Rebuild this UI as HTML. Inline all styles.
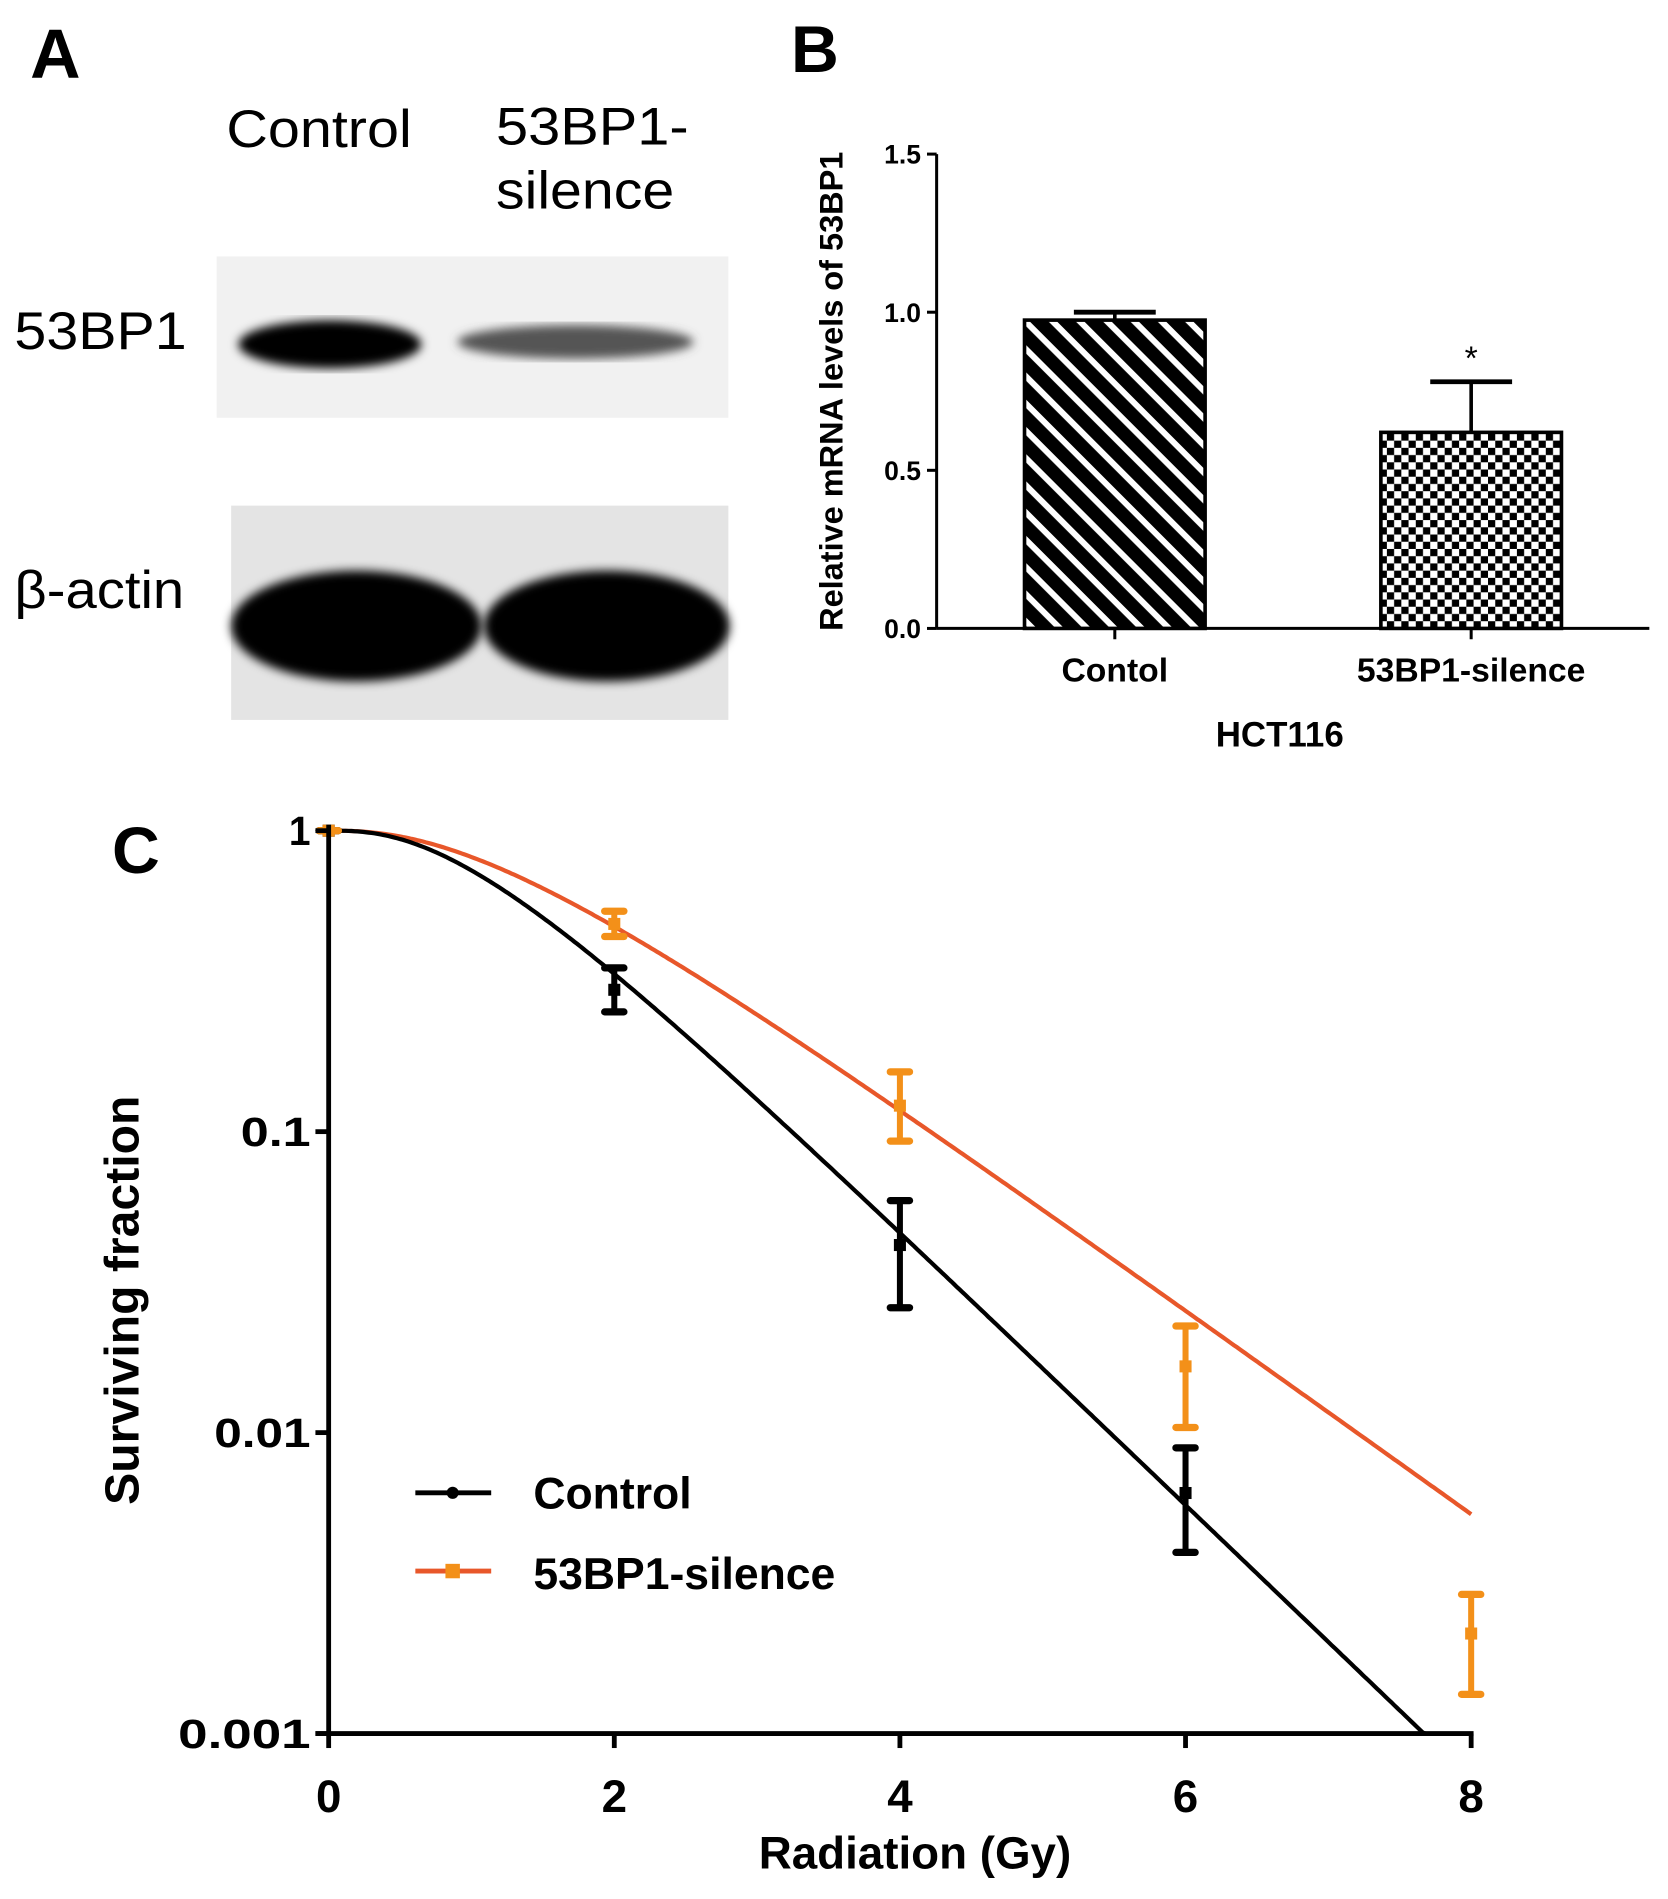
<!DOCTYPE html>
<html><head><meta charset="utf-8">
<style>
html,body{margin:0;padding:0;background:#fff;}
svg{display:block;}
text{font-family:"Liberation Sans",Arial,sans-serif;}
</style></head>
<body>
<svg id="fig" width="1668" height="1899" viewBox="0 0 1385.5 1577.4" preserveAspectRatio="none" xmlns="http://www.w3.org/2000/svg">
<defs>
<filter id="blur8"><feGaussianBlur stdDeviation="7"/></filter>
<filter id="blur4"><feGaussianBlur stdDeviation="4"/></filter>
<pattern id="hatch" patternUnits="userSpaceOnUse" width="16" height="16" patternTransform="rotate(45)">
<rect width="16" height="16" fill="#000"/><rect x="0" y="0" width="16" height="5" fill="#fff"/>
</pattern>
<pattern id="checker" patternUnits="userSpaceOnUse" width="12" height="12">
<rect width="12" height="12" fill="#fff"/><rect width="6" height="6" fill="#000"/><rect x="6" y="6" width="6" height="6" fill="#000"/>
</pattern>
</defs>

<!-- Panel A -->
<g>
<text x="25" y="65" font-size="58" font-weight="bold">A</text>
<text x="188" y="122" font-size="44" textLength="154" lengthAdjust="spacingAndGlyphs">Control</text>
<text x="412" y="120" font-size="44" textLength="160" lengthAdjust="spacingAndGlyphs">53BP1-</text>
<text x="412" y="173" font-size="44" textLength="148" lengthAdjust="spacingAndGlyphs">silence</text>
<text x="12" y="290" font-size="44" textLength="143" lengthAdjust="spacingAndGlyphs">53BP1</text>
<text x="12" y="505" font-size="44" textLength="141" lengthAdjust="spacingAndGlyphs">β-actin</text>
<g>
<rect x="180" y="213" width="425" height="134" fill="#f1f1f1"/>
<ellipse cx="274" cy="286" rx="76" ry="20" fill="#000" filter="url(#blur4)"/>
<ellipse cx="478" cy="284" rx="98" ry="14" fill="#555" filter="url(#blur4)"/>
</g>
<g>
<rect x="192" y="420" width="413" height="178" fill="#e4e4e4"/>
<ellipse cx="296" cy="520" rx="104" ry="46" fill="#000" filter="url(#blur4)"/>
<ellipse cx="504" cy="520" rx="102" ry="46" fill="#000" filter="url(#blur4)"/>
</g>
</g>

<!-- Panel B -->
<g id="panelB">
<text x="657" y="60" font-size="55" font-weight="bold">B</text>
<text transform="translate(700,325) rotate(-90)" text-anchor="middle" font-size="27" font-weight="bold">Relative mRNA levels of 53BP1</text>
<text x="1063" y="620" text-anchor="middle" font-size="29" font-weight="bold">HCT116</text>
</g>

<!-- Panel C -->
<g id="panelC">
<text x="93" y="725" font-size="55" font-weight="bold">C</text>
<text transform="translate(115,1080) rotate(-90)" text-anchor="middle" font-size="40" font-weight="bold">Surviving fraction</text>
<text x="760" y="1552" text-anchor="middle" font-size="38" font-weight="bold">Radiation (Gy)</text>
</g>
</svg>
<script>
// ---- Panel B data ----
const bCategories = ["Contol", "53BP1-silence"];
const bValues = [0.975, 0.62];
const bErrors = [0.025, 0.16];
const bTicks = [0, 0.5, 1.0, 1.5];
const bTickLabels = ["0.0", "0.5", "1.0", "1.5"];

// ---- Panel C data ----
const cDoses = [0, 2, 4, 6, 8];
const controlDoses = [0, 2, 4, 6];
const controlSF = [1, 0.296, 0.042, 0.0063];
const controlLow = [1, 0.25, 0.026, 0.0040];
const controlHigh = [1, 0.35, 0.059, 0.0089];
const silenceDoses = [0, 2, 4, 6, 8];
const silenceSF = [1, 0.49, 0.122, 0.0166, 0.00215];
const silenceLow = [1, 0.445, 0.093, 0.0104, 0.00135];
const silenceHigh = [1, 0.54, 0.158, 0.0226, 0.0029];
const controlFit = [0.954, 3.1];   // D0, n (multi-target fit)
const silenceFit = [1.28, 2.78];
const cYTicks = [1, 0.1, 0.01, 0.001];
const cYTickLabels = ["1", "0.1", "0.01", "0.001"];
const cXTickLabels = ["0", "2", "4", "6", "8"];

const NS = "http://www.w3.org/2000/svg";
function mk(tag, attrs, parent, text) {
  const e = document.createElementNS(NS, tag);
  for (const k in attrs) e.setAttribute(k, attrs[k]);
  if (text !== undefined) e.textContent = text;
  parent.appendChild(e);
  return e;
}

// Panel B
const gB = document.getElementById("panelB");
const bY = v => 522 - v * (522 - 128) / 1.5;
const bX = i => 926 + i * 296;
let el;
el = mk("line", {x1: 778, y1: 128, x2: 778, y2: 522, stroke: "#000", "stroke-width": 2.5}, gB);


el = mk("line", {x1: 778, y1: 522, x2: 1370, y2: 522, stroke: "#000", "stroke-width": 2.5}, gB);


bTicks.forEach((t, i) => {
  const y = bY(t);
  el = mk("line", {x1: 770, y1: y, x2: 778, y2: y, stroke: "#000", "stroke-width": 2.5}, gB);
  
  
  el = mk("text", {x: 765, y: y + 8, "text-anchor": "end", "font-size": 22, "font-weight": "bold"}, gB, bTickLabels[i]);
  
  
});
bCategories.forEach((c, i) => {
  const cx = bX(i), w = 150;
  const top = bY(bValues[i]), errTop = bY(bValues[i] + bErrors[i]);
  el = mk("line", {x1: cx, y1: top, x2: cx, y2: errTop, stroke: "#000", "stroke-width": 3}, gB);
  
  
  el = mk("line", {x1: cx - 34, y1: errTop, x2: cx + 34, y2: errTop, stroke: "#000", "stroke-width": 4}, gB);
  
  
  el = mk("rect", {x: cx - w / 2, y: top, width: w, height: 522 - top, fill: i === 0 ? "url(#hatch)" : "url(#checker)", stroke: "#000", "stroke-width": 3}, gB);
  
  
  el = mk("line", {x1: cx, y1: 522, x2: cx, y2: 531, stroke: "#000", "stroke-width": 2.5}, gB);
  
  
  el = mk("text", {x: cx, y: 566, "text-anchor": "middle", "font-size": 28, "font-weight": "bold"}, gB, c);
  
  
});
el = mk("text", {x: bX(1), y: bY(bValues[1] + bErrors[1]) - 10, "text-anchor": "middle", "font-size": 28}, gB, "*");



// Panel C
const gC = document.getElementById("panelC");
const cX = d => 273 + d * (1222 - 273) / 8;
const cY = v => 690 - Math.log10(v) * 250;
const BLACK = "#000", ORANGE_LINE = "#e8572a", ORANGE_PT = "#f39019";

function fitPath(p, maxD) {
  let d = "";
  for (let x = 0; x <= maxD + 1e-9; x += 0.02) {
    const s = 1 - Math.pow(1 - Math.exp(-x / p[0]), p[1]);
    if (s < 0.001) { // clip at axis
      d += "L" + cX(x).toFixed(1) + "," + cY(0.001).toFixed(1);
      break;
    }
    d += (d ? "L" : "M") + cX(x).toFixed(1) + "," + cY(s).toFixed(1);
  }
  return d;
}
el = mk("path", {d: fitPath(silenceFit, 8), fill: "none", stroke: ORANGE_LINE, "stroke-width": 3.5}, gC);


el = mk("path", {d: fitPath(controlFit, 8), fill: "none", stroke: BLACK, "stroke-width": 3.5}, gC);



function errBars(doses, mid, lo, hi, color, name) {
  doses.forEach((d, i) => {
    const x = cX(d);
    const g = mk("g", {}, gC);
    
    
    mk("line", {x1: x, y1: cY(lo[i]), x2: x, y2: cY(hi[i]), stroke: color, "stroke-width": 5}, g);
    mk("line", {x1: x - 8, y1: cY(lo[i]), x2: x + 8, y2: cY(lo[i]), stroke: color, "stroke-width": 6, "stroke-linecap": "round"}, g);
    mk("line", {x1: x - 8, y1: cY(hi[i]), x2: x + 8, y2: cY(hi[i]), stroke: color, "stroke-width": 6, "stroke-linecap": "round"}, g);
    mk("rect", {x: x - 5, y: cY(mid[i]) - 5, width: 10, height: 10, fill: color}, g);
  });
}
errBars(controlDoses, controlSF, controlLow, controlHigh, BLACK, 'control');
errBars(silenceDoses, silenceSF, silenceLow, silenceHigh, ORANGE_PT, 'silence');

el = mk("line", {x1: 273, y1: 685, x2: 273, y2: 1440, stroke: "#000", "stroke-width": 4}, gC);


el = mk("line", {x1: 262, y1: 1440, x2: 1224, y2: 1440, stroke: "#000", "stroke-width": 4}, gC);


cYTicks.forEach((t, i) => {
  const y = cY(t);
  el = mk("line", {x1: 262, y1: y, x2: 273, y2: y, stroke: "#000", "stroke-width": 4}, gC);
  
  
  el = mk("text", {x: 258, y: y + 12, "text-anchor": "end", "font-size": 34, "font-weight": "bold", textLength: [18, 58, 80, 110][i], lengthAdjust: "spacingAndGlyphs"}, gC, cYTickLabels[i]);
  
  
});
cDoses.forEach((d, i) => {
  const x = cX(d);
  el = mk("line", {x1: x, y1: 1440, x2: x, y2: 1452, stroke: "#000", "stroke-width": 4}, gC);
  
  
  el = mk("text", {x: x, y: 1505, "text-anchor": "middle", "font-size": 38, "font-weight": "bold"}, gC, cXTickLabels[i]);
  
  
});

// Legend
const lg = mk("g", {}, gC);


el = mk("g", {}, lg);


mk("line", {x1: 345, y1: 1240, x2: 408, y2: 1240, stroke: BLACK, "stroke-width": 4}, el);
mk("circle", {cx: 376, cy: 1240, r: 5, fill: BLACK}, el);
mk("text", {x: 443, y: 1253, "font-size": 37, "font-weight": "bold"}, el, "Control");
el = mk("g", {}, lg);


mk("line", {x1: 345, y1: 1305, x2: 408, y2: 1305, stroke: ORANGE_LINE, "stroke-width": 4}, el);
mk("rect", {x: 370, y: 1299, width: 12, height: 12, fill: ORANGE_PT}, el);
mk("text", {x: 443, y: 1320, "font-size": 37, "font-weight": "bold"}, el, "53BP1-silence");
</script>
</body></html>
